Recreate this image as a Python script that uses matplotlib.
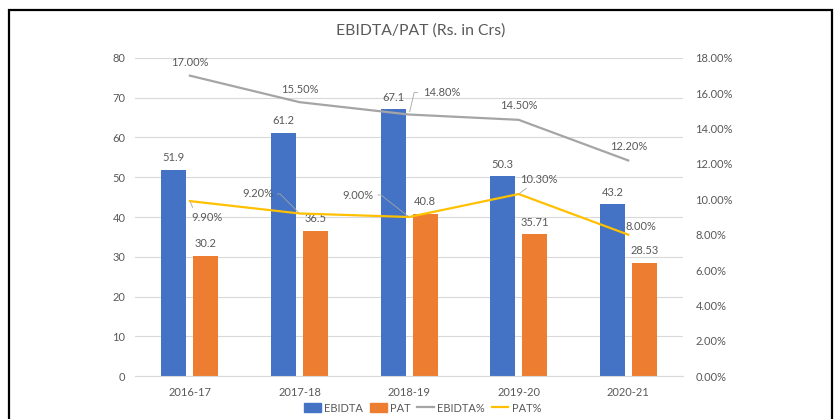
import matplotlib
matplotlib.use('Agg')
import matplotlib.pyplot as plt
import numpy as np
from matplotlib.patches import Rectangle

plt.rcParams['font.family'] = ['Lato', 'DejaVu Sans']

years = ['2016-17', '2017-18', '2018-19', '2019-20', '2020-21']
ebidta = [51.9, 61.2, 67.1, 50.3, 43.2]
pat = [30.2, 36.5, 40.8, 35.71, 28.53]
ebidta_pct = [17.0, 15.5, 14.8, 14.5, 12.2]
pat_pct = [9.9, 9.2, 9.0, 10.3, 8.0]
pat_lbl = ['30.2', '36.5', '40.8', '35.71', '28.53']

txt = '#595959'
blue = '#4472C4'
orange = '#ED7D31'
grey = '#A5A5A5'
yellow = '#FFC000'
fs = 8

fig = plt.figure(figsize=(8.34, 4.19), dpi=100)
ax = fig.add_axes([0.162, 0.1026, 0.657, 0.759])
ax2 = ax.twinx()

x = np.arange(len(years))
bw = 0.228
off = 0.146
ax.bar(x - off, ebidta, bw, color=blue, zorder=2)
ax.bar(x + off, pat, bw, color=orange, zorder=2)

ax.set_xlim(-0.5, 4.5)
ax.set_ylim(0, 80)
ax.set_yticks(range(0, 81, 10))
ax.grid(axis='y', color='#D9D9D9', lw=0.8, zorder=0)
ax.set_axisbelow(True)
ax.set_xticks(x)
ax.set_xticklabels(years)
for s in ['top', 'right', 'left']:
    ax.spines[s].set_visible(False)
ax.spines['bottom'].set_color('#D9D9D9')
ax.tick_params(axis='both', length=0, colors=txt, labelsize=fs)
ax.tick_params(axis='x', pad=8)
ax.tick_params(axis='y', pad=7)

# bar labels
for i in range(len(years)):
    ax.annotate(f'{ebidta[i]}', (x[i] - off, ebidta[i]), xytext=(0, 12),
                textcoords='offset pixels', ha='center', va='center', fontsize=fs, color=txt)
    ax.annotate(pat_lbl[i], (x[i] + off, pat[i]), xytext=(0, 12),
                textcoords='offset pixels', ha='center', va='center', fontsize=fs, color=txt)

ax2.plot(x, ebidta_pct, color=grey, lw=1.6, zorder=3)
ax2.plot(x, pat_pct, color=yellow, lw=1.6, zorder=3)
ax2.set_ylim(0, 18)
ax2.set_yticks(range(0, 19, 2))
ax2.set_yticklabels([f'{v:.2f}%' for v in range(0, 19, 2)])
for s in ax2.spines.values():
    s.set_visible(False)
ax2.tick_params(axis='y', length=0, colors=txt, labelsize=fs, pad=9)

# percentage labels (offsets in pixels)
e_off = [(0, 13), (0, 13), (14, 22), (0, 14), (0, 13.5)]
e_ha = ['center', 'center', 'left', 'center', 'center']
for i in range(len(years)):
    kw = {}
    if i == 2:
        kw = dict(arrowprops=dict(arrowstyle='-', color=grey, lw=0.6,
                                  shrinkA=2, shrinkB=2, relpos=(0, 0.5),
                                  connectionstyle='angle,angleA=0,angleB=77,rad=0'))
    ax2.annotate(f'{ebidta_pct[i]:.2f}%', (x[i], ebidta_pct[i]), xytext=e_off[i],
                 textcoords='offset pixels', ha=e_ha[i], va='center',
                 fontsize=fs, color=txt, **kw)

p_off = [(17, -16), (-42, 19.5), (-51, 22), (20, 15), (13, 8)]
p_rel = [(0.1, 1), (1, 0.5), (1, 0.5), (0.3, 0), None]
p_conn = ['arc3', 'angle,angleA=0,angleB=135,rad=0', 'angle,angleA=0,angleB=142,rad=0',
          'arc3', None]
for i in range(len(years)):
    kw = {}
    if p_rel[i] is not None:
        kw = dict(arrowprops=dict(arrowstyle='-', color=grey, lw=0.6,
                                  shrinkA=1, shrinkB=1, relpos=p_rel[i],
                                  connectionstyle=p_conn[i]))
    ax2.annotate(f'{pat_pct[i]:.2f}%', (x[i], pat_pct[i]), xytext=p_off[i],
                 textcoords='offset pixels', ha='center', va='center',
                 fontsize=fs, color=txt, **kw)

fig.text(0.504, 0.928, 'EBIDTA/PAT (Rs. in Crs)', ha='center', va='center',
         fontsize=11.3, color=txt)

h1 = plt.Rectangle((0, 0), 1, 1, color=blue)
h2 = plt.Rectangle((0, 0), 1, 1, color=orange)
h3 = plt.Line2D([], [], color=grey, lw=1.6)
h4 = plt.Line2D([], [], color=yellow, lw=1.6)
leg = fig.legend([h1, h2, h3, h4], ['EBIDTA', 'PAT', 'EBIDTA%', 'PAT%'],
                 loc='center', bbox_to_anchor=(0.507, 0.026), ncol=4, frameon=False,
                 fontsize=fs, handlelength=1.5, handleheight=0.9,
                 columnspacing=0.6, handletextpad=0.3)
for t in leg.get_texts():
    t.set_color(txt)

# outer frame
fig.patches.append(Rectangle((9 / 834, -0.05), 823 / 834, 1.05 - 10 / 419,
                             transform=fig.transFigure, fill=False,
                             edgecolor='black', lw=1.6, zorder=10))

fig.savefig('out.png', dpi=100)
